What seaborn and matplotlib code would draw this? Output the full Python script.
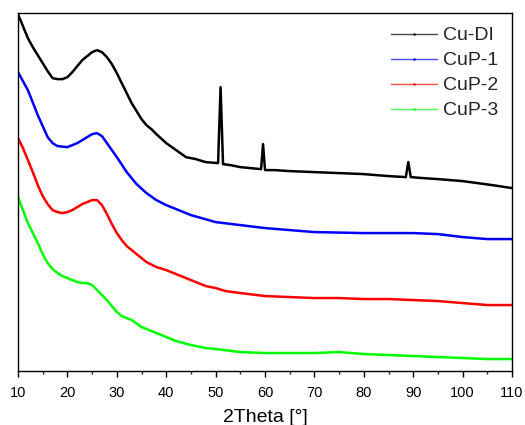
import matplotlib
matplotlib.use("Agg")
import numpy as np
import pandas as pd
import matplotlib.pyplot as plt
import seaborn as sns
from matplotlib.lines import Line2D

# Values (arbitrary intensity units, offset per sample)
cudi_x = [10, 12, 13, 14, 15, 16, 17, 18, 19, 20, 21, 22, 23, 24, 25, 26, 27, 28, 29, 30,
          31, 32, 33, 34, 35, 36, 37, 38, 40, 42, 44, 46, 48, 50.5, 51, 51.5, 53, 55, 57,
          59.2, 59.6, 60, 62, 65, 70, 75, 80, 85, 88.5, 89, 89.5, 92, 95, 100, 103, 106, 110]
cudi_y = [357, 333, 324, 316, 308, 300, 293, 292, 292, 294, 299, 305, 311, 315, 319, 321,
          319, 314, 307, 298, 288, 278, 268, 260, 252, 246, 242, 237, 228, 221, 214, 212,
          209, 208, 284, 207, 206, 204, 203, 202, 227, 201, 201, 200, 199, 198, 197, 195,
          194, 209, 194, 193, 192, 190, 188, 186, 183]

cup1_x = [10, 12, 14, 16, 17, 18, 20, 22, 24, 25, 26, 27, 28, 30, 32, 34, 36, 38, 40, 45,
          50, 55, 60, 70, 80, 90, 95, 100, 105, 110]
cup1_y = [299, 281, 256, 234, 228, 225, 224, 228, 234, 237, 238, 235, 228, 214, 199, 187,
          178, 171, 166, 156, 149, 146, 143, 139, 138, 138, 137, 134, 132, 132]

cup2_x = [10, 11, 12, 13, 14, 15, 16, 17, 18, 19, 20, 21, 22, 23, 24, 25, 26, 27, 28, 29,
          30, 31, 32, 33, 34, 35, 36, 38, 40, 42, 45, 48, 50, 52, 55, 60, 65, 70, 75, 80,
          85, 90, 95, 100, 105, 110]
cup2_y = [233, 223, 211, 199, 186, 175, 167, 161, 159, 158, 159, 161, 164, 167, 169, 171,
          171, 166, 157, 147, 138, 131, 125, 121, 117, 113, 109, 104, 101, 97, 91, 85, 83,
          80, 78, 75, 74, 73, 73, 72, 72, 71, 70, 68, 66, 66]

cup3_x = [10, 11, 12, 13, 14, 15, 16, 17, 18, 19, 20, 21, 22, 23, 24, 25, 26, 27, 28, 29,
          30, 31, 32, 33, 35, 37, 40, 42, 45, 48, 50, 55, 60, 65, 70, 75, 80, 85, 90, 95,
          100, 105, 110]
cup3_y = [174, 161, 148, 138, 128, 117, 108, 102, 98, 95, 93, 91, 89, 88, 88, 86, 81, 76,
          71, 65, 59, 55, 53, 51, 44, 40, 34, 30, 26, 23, 22, 19, 18, 18, 18, 19, 17, 16,
          15, 14, 13, 12, 12]

labels = ["Cu-DI", "CuP-1", "CuP-2", "CuP-3"]
colors = ["#000000", "#0000FF", "#FF0000", "#00FF00"]

df = pd.concat([
    pd.DataFrame({"2Theta": cudi_x, "Intensity": cudi_y, "Sample": labels[0]}),
    pd.DataFrame({"2Theta": cup1_x, "Intensity": cup1_y, "Sample": labels[1]}),
    pd.DataFrame({"2Theta": cup2_x, "Intensity": cup2_y, "Sample": labels[2]}),
    pd.DataFrame({"2Theta": cup3_x, "Intensity": cup3_y, "Sample": labels[3]}),
], ignore_index=True)

sns.set_theme(style="ticks")
plt.rcParams["font.family"] = ["Liberation Sans", "DejaVu Sans"]

fig = plt.figure(figsize=(5.25, 4.25), dpi=100)
ax = fig.add_axes([0.0343, 0.127, 0.941, 0.842])

sns.lineplot(data=df, x="2Theta", y="Intensity", hue="Sample", hue_order=labels,
             palette=colors, linewidth=1.8, sort=False, estimator=None, legend=False, ax=ax)

ax.set_xlim(10, 110)
ax.set_ylim(0, 358)
ax.set_xticks(np.arange(10, 111, 10))
ax.set_xticks(np.arange(15, 110, 10), minor=True)
ax.set_yticks([])
ax.tick_params(axis="x", which="major", direction="out", length=4.5, width=1,
               labelsize=10.5, colors="black", pad=6)
ax.tick_params(axis="x", which="minor", direction="out", length=2.5, width=1)
for side in ["top", "right", "left", "bottom"]:
    ax.spines[side].set_visible(True)
    ax.spines[side].set_color("black")
    ax.spines[side].set_linewidth(1.0)
ax.set_xlabel("2Theta [°]", fontsize=14, color="black", labelpad=6.5)
ax.set_ylabel("")

handles = [Line2D([0], [0], color=c, lw=1.0, alpha=0.7, marker=".", markersize=2) for c in colors]
ax.legend(handles, labels, loc="upper right", frameon=False, fontsize=14,
          handlelength=2.4, handletextpad=0.3, labelspacing=0.38,
          borderaxespad=0.4, borderpad=0.3)

fig.savefig("out.png", dpi=100)
